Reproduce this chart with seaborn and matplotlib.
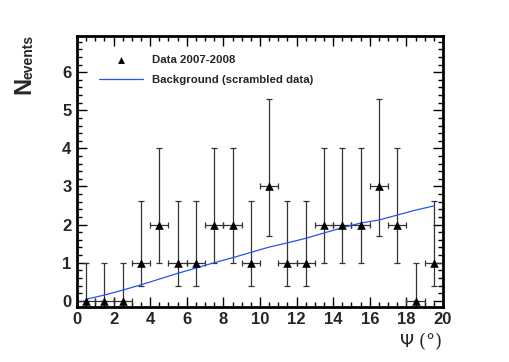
import numpy as np
import pandas as pd
import matplotlib
matplotlib.use("Agg")
import matplotlib.pyplot as plt
from matplotlib.ticker import MultipleLocator
import seaborn as sns

psi = [0.5, 1.5, 2.5, 3.5, 4.5, 5.5, 6.5, 7.5, 8.5, 9.5,
       10.5, 11.5, 12.5, 13.5, 14.5, 15.5, 16.5, 17.5, 18.5, 19.5]
counts = [0, 0, 0, 1, 2, 1, 1, 2, 2, 1, 3, 1, 1, 2, 2, 2, 3, 2, 0, 1]
err_low = {0: 0.0, 1: 0.62, 2: 1.0, 3: 1.3}
err_high = {0: 1.0, 1: 1.62, 2: 2.0, 3: 2.3}
background = [0.04, 0.15, 0.28, 0.42, 0.57, 0.72, 0.86, 1.0, 1.13, 1.27,
              1.41, 1.52, 1.64, 1.78, 1.92, 2.04, 2.12, 2.25, 2.38, 2.49]

sns.set_theme(style="white")
plt.rcParams['font.family'] = ['Liberation Sans', 'DejaVu Sans']

df = pd.DataFrame({"psi": psi, "n": counts, "bg": background})

fig = plt.figure(figsize=(5.10, 3.62), dpi=100)
ax = fig.add_axes([77/510, 1 - 306.5/362, 366/510, 270.5/362])

yerr = [[err_low[c] for c in counts], [err_high[c] for c in counts]]
ax.errorbar(df["psi"], df["n"], xerr=0.5, yerr=yerr, fmt="none",
            ecolor="#333333", elinewidth=0.9, capsize=2.2, capthick=0.9, zorder=2)
sns.lineplot(data=df, x="psi", y="bg", ax=ax, color="#2255ee", lw=0.9,
             label="Background (scrambled data)", zorder=3)
sns.scatterplot(data=df, x="psi", y="n", ax=ax, marker="^", color="black",
                s=38, edgecolor="black", linewidth=0, zorder=4,
                label="Data 2007-2008")

ax.set_xlim(0, 20)
ax.set_ylim(-0.15, 6.95)
ax.xaxis.set_major_locator(MultipleLocator(2))
ax.xaxis.set_minor_locator(MultipleLocator(0.5))
ax.yaxis.set_major_locator(MultipleLocator(1))
ax.yaxis.set_minor_locator(MultipleLocator(0.2))
ax.tick_params(which="both", direction="in", top=True, right=True,
               bottom=True, left=True, color="black", width=1.0)
ax.tick_params(which="major", length=7, labelsize=12, pad=4)
ax.tick_params(which="minor", length=3.5)
ax.set_yticks(range(0, 7))
for lab in ax.get_xticklabels() + ax.get_yticklabels():
    lab.set_fontweight("bold")
for sp in ax.spines.values():
    sp.set_visible(True)
    sp.set_color("black")
    sp.set_linewidth(2.0)

ax.set_xlabel("")
ax.set_ylabel("")
fig.text(443/510, 1 - 341/362, r"$\Psi$ (°)", ha="right", va="center",
         fontsize=13, family=["DejaVu Serif"])
fig.text(24/510, 1 - 85/362, "N", rotation=90, ha="center", va="center",
         fontsize=17, fontweight="bold")
fig.text(29/510, 1 - 57/362, "events", rotation=90, ha="center", va="center",
         fontsize=10, fontweight="bold")

handles, labels = ax.get_legend_handles_labels()
order = [labels.index("Data 2007-2008"), labels.index("Background (scrambled data)")]
ax.legend([handles[i] for i in order], [labels[i] for i in order],
          loc="upper left", bbox_to_anchor=(0.033, 0.969), frameon=False,
          prop={"weight": "bold", "size": 8.2}, handlelength=3.8,
          labelspacing=0.9, handletextpad=0.8, markerscale=0.8)

fig.savefig("out.png", dpi=100)
